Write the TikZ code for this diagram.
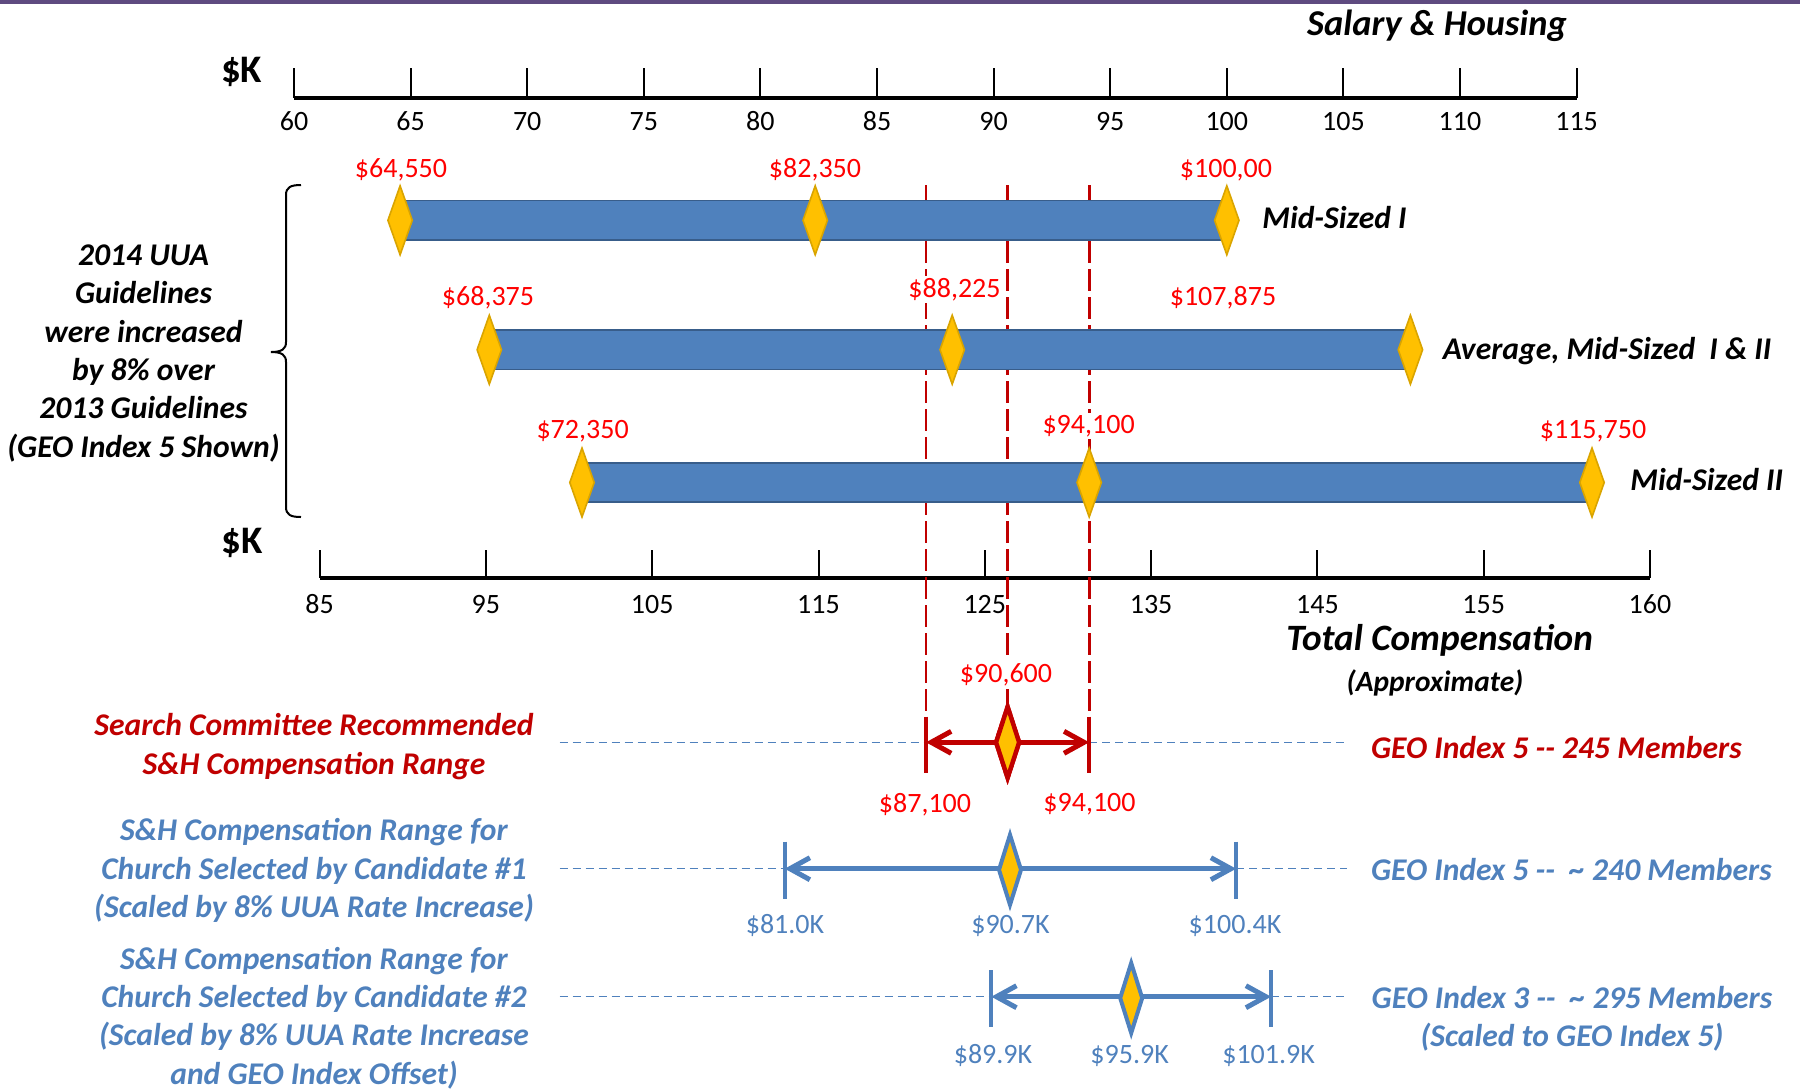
\documentclass[tikz,border=0pt]{standalone}
\usepackage{fontspec}
\setmainfont{Carlito}
\usetikzlibrary{arrows.meta,shapes.geometric}
\definecolor{uublue}{HTML}{4F81BD}
\definecolor{barline}{HTML}{385D8A}
\definecolor{gold}{HTML}{FFC000}
\definecolor{goldline}{HTML}{D9A400}
\definecolor{darkred}{HTML}{C00000}
\definecolor{purplebar}{HTML}{5F4B80}
\tikzset{
  axistick/.style={line width=1pt},
  axisline/.style={line width=1.6pt},
  num/.style={font=\fontsize{14}{16}\selectfont, inner sep=0pt, anchor=base},
  redval/.style={num, text=red, fill=white, inner sep=1pt},
  blueval/.style={num, text=uublue},
  lab/.style={font=\fontsize{15.8}{19.15}\selectfont\bfseries\itshape, inner sep=0pt, anchor=base},
  rangebar/.style={fill=uublue, draw=barline, line width=0.9pt},
  gdiam/.style={diamond, fill=gold, draw=goldline, line width=0.8pt, minimum width=12.2pt, minimum height=34.5pt, inner sep=0pt, outer sep=0pt},
  rdiam/.style={diamond, fill=gold, draw=darkred, line width=2.2pt, minimum width=11.5pt, minimum height=35.5pt, inner sep=0pt, outer sep=0pt},
  bdiam/.style={diamond, fill=gold, draw=uublue, line width=2pt, minimum width=11pt, minimum height=35pt, inner sep=0pt, outer sep=0pt},
  reddash/.style={draw=darkred, line width=1.3pt, dash pattern=on 11pt off 3pt},
  guide/.style={draw=uublue, line width=0.75pt, dash pattern=on 4pt off 2.5pt},
  redarrow/.style={draw=darkred, line width=2.5pt, >={Straight Barb[length=10pt,width=11pt]}, <->},
  bluearrow/.style={draw=uublue, line width=2.5pt, >={Straight Barb[length=10pt,width=11pt]}, <->},
  redend/.style={draw=darkred, line width=2pt},
  blueend/.style={draw=uublue, line width=2pt},
}
\begin{document}
\begin{tikzpicture}[x=0.5pt,y=-0.5pt]
\useasboundingbox (0,0) rectangle (1800,1089);
\fill[purplebar] (0,0) rectangle (1800,3.5);

% title
\node[lab, font=\fontsize{18.2}{20}\selectfont\bfseries\itshape] (title) at (1437,35) {Salary \& Housing};

% top axis
\node[num, font=\fontsize{19.5}{21}\selectfont\bfseries] (sk1) at (241.7,82) {\$K};
\draw[axisline] (294,98) -- (1576.6,98);
\foreach \v [count=\i from 0] in {60,65,...,115} {
  \draw[axistick] (294+\i*116.6,68) -- (294+\i*116.6,98);
  \node[num] (tt\i) at (294+\i*116.6,130) {\v};
}

% bottom axis
\node[num, font=\fontsize{19.5}{21}\selectfont\bfseries] (sk2) at (242,553) {\$K};
\draw[axisline] (319.6,578) -- (1650,578);
\foreach \v [count=\i from 0] in {85,95,105,115,125,135,145,155,160} {
  \draw[axistick] (319.6+\i*166.3,550) -- (319.6+\i*166.3,578);
  \node[num] (bt\i) at (319.6+\i*166.3,613) {\v};
}
\node[lab, font=\fontsize{18.6}{20}\selectfont\bfseries\itshape] (tc) at (1439.7,650) {Total Compensation};
\node[lab, font=\fontsize{14.7}{16}\selectfont\bfseries\itshape] (approx) at (1435,691) {(Approximate)};

% key coordinates
\coordinate (rLt) at (926,716.7);  \coordinate (rLm) at (926,742.3);  \coordinate (rLb) at (926,773.3);
\coordinate (rRt) at (1089.2,716.7); \coordinate (rRm) at (1089.2,742.3); \coordinate (rRb) at (1089.2,773.3);
\coordinate (vL) at (926,185); \coordinate (vM) at (1007.6,185); \coordinate (vR) at (1089.2,185);

% red dashed verticals
\node[rdiam] (rd) at (1007.6,742.3) {};
\draw[reddash] (vL) -- (rLt);
\draw[reddash] (vM) -- (rd.north);
\draw[reddash] (vR) -- (rRt);

% bars
\path[rangebar] (400.1,200.5) rectangle (1226.8,240.1);
\path[rangebar] (489.3,329.9) rectangle (1410.4,369.5);
\path[rangebar] (582.0,462.7) rectangle (1592,502.3);

\node[gdiam] (d11) at (400.1,220.3) {};
\node[gdiam] (d12) at (815.2,220.3) {};
\node[gdiam] (d13) at (1226.8,220.3) {};
\node[gdiam] (d21) at (489.3,349.7) {};
\node[gdiam] (d22) at (952.2,349.7) {};
\node[gdiam] (d23) at (1410.4,349.7) {};
\node[gdiam] (d31) at (582.0,482.5) {};
\node[gdiam] (d32) at (1089.2,482.5) {};
\node[gdiam] (d33) at (1592,482.5) {};

\node[redval] (v11) at (401,177) {\$64,550};
\node[redval] (v12) at (815,177) {\$82,350};
\node[redval] (v13) at (1226,177) {\$100,00};
\node[redval] (v21) at (488,305) {\$68,375};
\node[redval] (v22) at (954.5,297) {\$88,225};
\node[redval] (v23) at (1223,305) {\$107,875};
\node[redval] (v31) at (582.6,438) {\$72,350};
\node[redval] (v32) at (1088.6,433) {\$94,100};
\node[redval] (v33) at (1593,438) {\$115,750};

\node[lab, anchor=base west] (ms1) at (1262,228.3) {Mid-Sized I};
\node[lab, anchor=base west] (avg) at (1442.5,359.3) {Average, Mid-Sized\ \ I \& II};
\node[lab, anchor=base west] (ms2) at (1630,490) {Mid-Sized II};

% brace
\draw[line width=1pt] (301,185) .. controls (291,185) and (286,187) .. (286,195) -- (286,342)
  .. controls (286,349) and (282,352) .. (271,352) .. controls (282,352) and (286,355) .. (286,362)
  -- (286,507) .. controls (286,515) and (291,517) .. (301,517);
\node[lab, align=center] (uua) at (143.5,457) {2014 UUA\\Guidelines\\were increased\\by 8\% over\\2013 Guidelines\\(GEO Index 5 Shown)};

% red recommended range row
\coordinate (g0a) at (559.7,742.3); \coordinate (g0b) at (1346.6,742.3);
\draw[guide] (g0a) -- (rLm);
\draw[guide] (rRm) -- (g0b);
\draw[redarrow] (rLm) -- (rRm);
\draw[redend] (rLt) -- (rLb);
\draw[redend] (rRt) -- (rRb);
\node[rdiam] at (rd) {};
\node[redval] (v90) at (1006,682) {\$90,600};
\node[redval] (v87) at (925,812) {\$87,100};
\node[redval] (v94) at (1089.5,811) {\$94,100};
\node[lab, text=darkred, align=center] (sc) at (314,774) {Search Committee Recommended\\S\&H Compensation Range};
\node[lab, text=darkred, anchor=base west] (geo5a) at (1370.7,758.3) {GEO Index 5 -{}- 245 Members};

% candidate 1 row
\coordinate (b1Lt) at (784.7,841.7); \coordinate (b1Lm) at (784.7,868.7); \coordinate (b1Lb) at (784.7,899.3);
\coordinate (b1Rt) at (1236.1,841.7); \coordinate (b1Rm) at (1236.1,868.7); \coordinate (b1Rb) at (1236.1,899.3);
\coordinate (g1a) at (559.7,868.7); \coordinate (g1b) at (1346.6,868.7);
\draw[guide] (g1a) -- (b1Lm);
\draw[guide] (b1Rm) -- (g1b);
\draw[bluearrow] (b1Lm) -- (b1Rm);
\draw[blueend] (b1Lt) -- (b1Lb);
\draw[blueend] (b1Rt) -- (b1Rb);
\node[bdiam] (bd1) at (1010,869.8) {};
\node[blueval] (c1a) at (785,933) {\$81.0K};
\node[blueval] (c1b) at (1010.5,933) {\$90.7K};
\node[blueval] (c1c) at (1235,933) {\$100.4K};
\node[lab, text=uublue, align=center] (cand1) at (314,917.3) {S\&H Compensation Range for\\Church Selected by Candidate \#1\\(Scaled by 8\% UUA Rate Increase)};
\node[lab, text=uublue, anchor=base west] (geo5b) at (1370.7,880) {GEO Index 5 -{}-\ \ \textasciitilde\ 240 Members};

% candidate 2 row
\coordinate (b2Lt) at (991.3,970); \coordinate (b2Lm) at (991.3,996.7); \coordinate (b2Lb) at (991.3,1026.7);
\coordinate (b2Rt) at (1271.1,970); \coordinate (b2Rm) at (1271.1,996.7); \coordinate (b2Rb) at (1271.1,1026.7);
\coordinate (g2a) at (559.7,996.7); \coordinate (g2b) at (1346.6,996.7);
\draw[guide] (g2a) -- (b2Lm);
\draw[guide] (b2Rm) -- (g2b);
\draw[bluearrow] (b2Lm) -- (b2Rm);
\draw[blueend] (b2Lt) -- (b2Lb);
\draw[blueend] (b2Rt) -- (b2Rb);
\node[bdiam] (bd2) at (1131.2,998) {};
\node[blueval] (c2a) at (993,1063) {\$89.9K};
\node[blueval] (c2b) at (1129.6,1063) {\$95.9K};
\node[blueval] (c2c) at (1268.6,1063) {\$101.9K};
\node[lab, text=uublue, align=center] (cand2) at (314,1084) {S\&H Compensation Range for\\Church Selected by Candidate \#2\\(Scaled by 8\% UUA Rate Increase\\and GEO Index Offset)};
\node[lab, text=uublue, align=center] (geo3) at (1572,1046.7) {GEO Index 3 -{}-\ \ \textasciitilde\ 295 Members\\(Scaled to GEO Index 5)};
\end{tikzpicture}
\end{document}
